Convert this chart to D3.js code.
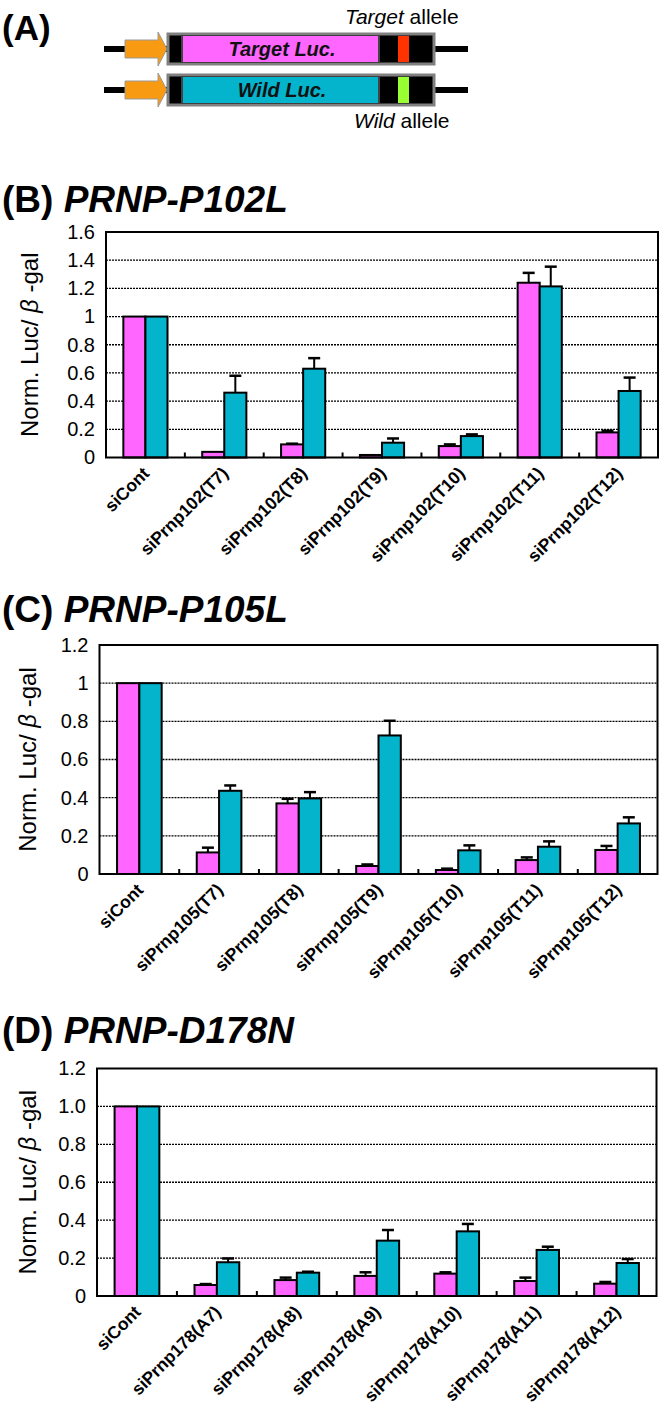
<!DOCTYPE html>
<html><head><meta charset="utf-8">
<script src="https://cdn.jsdelivr.net/npm/d3@7"></script>
<style>
html,body{margin:0;padding:0;background:#fff;}
svg{display:block;font-family:"Liberation Sans",Arial,sans-serif;}
</style></head>
<body><svg id="chart" width="664" height="1422"></svg>
<script>
// ---------- DATA ----------
const catsB = ["siCont","siPrnp102(T7)","siPrnp102(T8)","siPrnp102(T9)","siPrnp102(T10)","siPrnp102(T11)","siPrnp102(T12)"];
const targetB = [1, 0.04, 0.093, 0.018, 0.081, 1.24, 0.178];
const targetErrB = [0, 0, 0.005, 0, 0.012, 0.07, 0.012];
const wildB = [1, 0.46, 0.63, 0.105, 0.152, 1.214, 0.472];
const wildErrB = [0, 0.12, 0.075, 0.03, 0.012, 0.14, 0.095];
const ticksB = [0,0.2,0.4,0.6,0.8,1,1.2,1.4,1.6];
const tickLabelsB = ["0","0.2","0.4","0.6","0.8","1","1.2","1.4","1.6"];

const catsC = ["siCont","siPrnp105(T7)","siPrnp105(T8)","siPrnp105(T9)","siPrnp105(T10)","siPrnp105(T11)","siPrnp105(T12)"];
const targetC = [1, 0.113, 0.37, 0.042, 0.021, 0.073, 0.126];
const targetErrC = [0, 0.025, 0.024, 0.008, 0.007, 0.014, 0.021];
const wildC = [1, 0.436, 0.396, 0.726, 0.124, 0.143, 0.265];
const wildErrC = [0, 0.028, 0.033, 0.077, 0.026, 0.028, 0.032];
const ticksC = [0,0.2,0.4,0.6,0.8,1,1.2];
const tickLabelsC = ["0","0.2","0.4","0.6","0.8","1","1.2"];

const catsD = ["siCont","siPrnp178(A7)","siPrnp178(A8)","siPrnp178(A9)","siPrnp178(A10)","siPrnp178(A11)","siPrnp178(A12)"];
const targetD = [1, 0.058, 0.084, 0.106, 0.118, 0.079, 0.065];
const targetErrD = [0, 0.005, 0.013, 0.019, 0.007, 0.018, 0.009];
const wildD = [1, 0.178, 0.123, 0.292, 0.341, 0.243, 0.174];
const wildErrD = [0, 0.02, 0.005, 0.056, 0.039, 0.017, 0.021];
const ticksD = [0,0.2,0.4,0.6,0.8,1,1.2];
const tickLabelsD = ["0","0.2","0.4","0.6","0.8","1.0","1.2"];

const panelLetters = ["(B)","(C)","(D)"];
const panelNames = ["PRNP-P102L","PRNP-P105L","PRNP-D178N"];
const yTitleA = "Norm. Luc/ ";
const yTitleB = "\u03B2";
const yTitleC = " -gal";

// ---------- STYLE ----------
const PINK = "#FF66FF", CYAN = "#04B4CC";
const svg = d3.select("#chart");

// ---------- PANEL A ----------
function drawConstruct(cy, mainColor, alleleColor, label) {
  const g = svg.append("g");
  g.append("line").attr("x1",104).attr("x2",468).attr("y1",cy).attr("y2",cy)
    .attr("stroke","#000").attr("stroke-width",6);
  g.append("path").attr("d",`M125,${cy-9} L158,${cy-9} L158,${cy-17} L167,${cy} L158,${cy+17} L158,${cy+9} L125,${cy+9} Z`)
    .attr("fill","#F99B12").attr("stroke","#999").attr("stroke-width",1);
  g.append("rect").attr("x",168).attr("y",cy-15).attr("width",266).attr("height",30)
    .attr("fill","#000").attr("stroke","#808080").attr("stroke-width",3);
  g.append("rect").attr("x",183).attr("y",cy-13).attr("width",195).attr("height",26).attr("fill",mainColor);
  g.append("rect").attr("x",398).attr("y",cy-13).attr("width",11).attr("height",26).attr("fill",alleleColor);
  g.append("line").attr("x1",182).attr("x2",182).attr("y1",cy-13).attr("y2",cy+13).attr("stroke","#888").attr("stroke-width",1);
  g.append("line").attr("x1",379).attr("x2",379).attr("y1",cy-13).attr("y2",cy+13).attr("stroke","#888").attr("stroke-width",1);
  g.append("text").attr("x",282).attr("y",cy+7).attr("text-anchor","middle")
    .attr("font-size",20).attr("font-style","italic").attr("font-weight","bold").attr("fill","#111").text(label);
}
svg.append("text").attr("x",2).attr("y",40).attr("font-size",35).attr("font-weight","bold").text("(A)");
drawConstruct(49, "#FF66FF", "#FF3300", "Target  Luc.");
drawConstruct(90, "#04B4CC", "#99FF33", "Wild Luc.");
const ta = svg.append("text").attr("x",345).attr("y",24).attr("font-size",21);
ta.append("tspan").attr("font-style","italic").text("Target");
ta.append("tspan").text(" allele");
const wa = svg.append("text").attr("x",354).attr("y",128).attr("font-size",21);
wa.append("tspan").attr("font-style","italic").text("Wild");
wa.append("tspan").text(" allele");

// ---------- BAR PANELS ----------
function drawPanel(p) {
  const g = svg.append("g");
  const x = d3.scaleBand().domain(p.cats).range([p.left, p.right]).paddingInner(0).paddingOuter(0);
  const y = d3.scaleLinear().domain([0, p.ymax]).range([p.bottom, p.top]);
  const bw = x.bandwidth() * 0.28;

  const t = svg.append("text").attr("x",2).attr("y",p.titleY).attr("font-size",37).attr("font-weight","bold");
  t.append("tspan").text(p.letter + " ");
  t.append("tspan").attr("font-style","italic").text(p.name);

  g.selectAll(".grid").data(p.ticks.filter(v => v > 0 && v < p.ymax)).join("line")
    .attr("x1",p.left).attr("x2",p.right).attr("y1",d=>y(d)).attr("y2",d=>y(d))
    .attr("stroke","#000").attr("stroke-width",1.3).attr("stroke-dasharray","2,1");

  const yAxis = d3.axisLeft(y).tickValues(p.ticks).tickFormat((d,i)=>p.tickLabels[i]).tickSize(0).tickPadding(11);
  const ya = g.append("g").attr("transform",`translate(${p.left},0)`).call(yAxis);
  ya.select(".domain").remove();
  ya.selectAll("text").attr("font-size",20).attr("font-family","Liberation Sans, Arial, sans-serif").attr("fill","#000");

  const yt = g.append("text").attr("transform",`translate(${p.ytx},${(p.top+p.bottom)/2}) rotate(-90)`)
    .attr("text-anchor","middle").attr("font-size",24);
  yt.append("tspan").text(yTitleA);
  yt.append("tspan").attr("font-style","italic").text(yTitleB);
  yt.append("tspan").text(yTitleC);

  const idx = d3.range(p.cats.length);
  g.selectAll(".bt").data(idx).join("rect")
    .attr("x",i=>x(p.cats[i]) + x.bandwidth()/2 - bw).attr("width",bw)
    .attr("y",i=>y(p.target[i])).attr("height",i=>y(0)-y(p.target[i]))
    .attr("fill",PINK).attr("stroke","#000").attr("stroke-width",2);
  g.selectAll(".bw").data(idx).join("rect")
    .attr("x",i=>x(p.cats[i]) + x.bandwidth()/2).attr("width",bw)
    .attr("y",i=>y(p.wild[i])).attr("height",i=>y(0)-y(p.wild[i]))
    .attr("fill",CYAN).attr("stroke","#000").attr("stroke-width",2);

  function err(vals, errs, off) {
    const d = idx.filter(i => errs[i] > 0);
    g.selectAll(null).data(d).join("line")
      .attr("x1",i=>x(p.cats[i])+x.bandwidth()/2+off).attr("x2",i=>x(p.cats[i])+x.bandwidth()/2+off)
      .attr("y1",i=>y(vals[i])).attr("y2",i=>y(vals[i]+errs[i]))
      .attr("stroke","#000").attr("stroke-width",2);
    g.selectAll(null).data(d).join("line")
      .attr("x1",i=>x(p.cats[i])+x.bandwidth()/2+off-6).attr("x2",i=>x(p.cats[i])+x.bandwidth()/2+off+6)
      .attr("y1",i=>y(vals[i]+errs[i])).attr("y2",i=>y(vals[i]+errs[i]))
      .attr("stroke","#000").attr("stroke-width",2.5);
  }
  err(p.target, p.targetErr, -bw/2);
  err(p.wild, p.wildErr, bw/2);

  g.append("rect").attr("x",p.left).attr("y",p.top).attr("width",p.right-p.left).attr("height",p.bottom-p.top)
    .attr("fill","none").attr("stroke","#000").attr("stroke-width",2);

  g.selectAll(".tk").data(p.cats.slice(1)).join("line")
    .attr("x1",d=>x(d)).attr("x2",d=>x(d)).attr("y1",p.bottom).attr("y2",p.bottom-5)
    .attr("stroke","#000").attr("stroke-width",2);

  g.selectAll(".xl").data(p.cats).join("text")
    .attr("transform",d=>`translate(${x(d)+x.bandwidth()/2+5},${p.bottom+17}) rotate(-45)`)
    .attr("text-anchor","end").attr("font-size",17.5).attr("font-weight","bold").text(d=>d);
}

drawPanel({cats:catsB, target:targetB, targetErr:targetErrB, wild:wildB, wildErr:wildErrB,
  ticks:ticksB, tickLabels:tickLabelsB, ymax:1.6, letter:panelLetters[0], name:panelNames[0],
  left:106, right:658, top:232, bottom:457.5, titleY:212, ytx:38});
drawPanel({cats:catsC, target:targetC, targetErr:targetErrC, wild:wildC, wildErr:wildErrC,
  ticks:ticksC, tickLabels:tickLabelsC, ymax:1.2, letter:panelLetters[1], name:panelNames[1],
  left:99.5, right:657.5, top:645, bottom:874, titleY:622, ytx:36});
drawPanel({cats:catsD, target:targetD, targetErr:targetErrD, wild:wildD, wildErr:wildErrD,
  ticks:ticksD, tickLabels:tickLabelsD, ymax:1.2, letter:panelLetters[2], name:panelNames[2],
  left:97, right:656.5, top:1068.5, bottom:1296, titleY:1043, ytx:36});
</script></body></html>
